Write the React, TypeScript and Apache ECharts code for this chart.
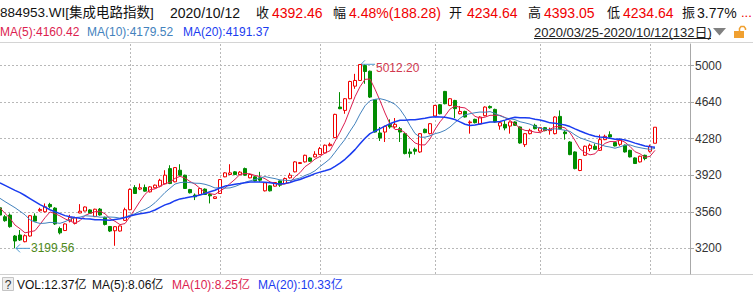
import React, { useEffect, useRef } from "react";
import * as echarts from "echarts";

// ---------- DATA ----------
const tradeDays: [string, number[]][] = [
  ["03", [25, 26, 27, 30, 31]],
  ["04", [1, 2, 3, 7, 8, 9, 10, 13, 14, 15, 16, 17, 20, 21, 22, 23, 24, 27, 28, 29, 30]],
  ["05", [6, 7, 8, 11, 12, 13, 14, 15, 18, 19, 20, 21, 22, 25, 26, 27, 28, 29]],
  ["06", [1, 2, 3, 4, 5, 8, 9, 10, 11, 12, 15, 16, 17, 18, 19, 22, 23, 24, 29, 30]],
  ["07", [1, 2, 3, 6, 7, 8, 9, 10, 13, 14, 15, 16, 17, 20, 21, 22, 23, 24, 27, 28, 29, 30, 31]],
  ["08", [3, 4, 5, 6, 7, 10, 11, 12, 13, 14, 17, 18, 19, 20, 21, 24, 25, 26, 27, 28, 31]],
  ["09", [1, 2, 3, 4, 7, 8, 9, 10, 11, 14, 15, 16, 17, 18, 21, 22, 23, 24, 25, 28, 29, 30]],
  ["10", [9, 12]],
];
const categories: string[] = tradeDays.flatMap(([m, ds]) =>
  ds.map((d) => `2020/${m}/${String(d).padStart(2, "0")}`)
);
const blankSlots = 7;
const gridDates = ["2020/05/06", "2020/06/01", "2020/07/01", "2020/08/03", "2020/09/01", "2020/10/09"];
const yTicks = [3200, 3560, 3920, 4280, 4640, 5000];

const opens = [
  3599, 3511, 3527, 3321, 3331, 3265, 3321, 3517, 3570, 3560, 3632, 3596, 3395, 3375, 3470, 3445, 3548, 3567, 3578, 3512,
  3586, 3505, 3415, 3373, 3370, 3475, 3580, 3799, 3783, 3799, 3756, 3796, 3812, 3835, 3985, 3855, 3969, 3920, 3779, 3724,
  3730, 3783, 3730, 3691, 3740, 3904, 3927, 3953, 3925, 3985, 3894, 3904, 3894, 3766, 3815, 3812, 3864, 3838, 3894, 3953,
  4035, 4051, 4090, 4100, 4123, 4139, 4211, 4290, 4591, 4558, 4673, 4797, 4853, 5000, 4944, 4663, 4336, 4345, 4421, 4395,
  4378, 4329, 4149, 4175, 4149, 4372, 4329, 4503, 4614, 4745, 4607, 4656, 4525, 4548, 4437, 4470, 4424, 4506, 4597, 4568,
  4405, 4421, 4404, 4444, 4395, 4221, 4329, 4411, 4355, 4388, 4359, 4329, 4499, 4345, 4247, 4149, 3966, 4116, 4182, 4205,
  4165, 4270, 4319, 4241, 4224, 4215, 4165, 4090, 4051, 4116, 4156, 4234.64,
];
const closes = [
  3527, 3472, 3413, 3272, 3282, 3324, 3521, 3468, 3583, 3609, 3609, 3440, 3352, 3440, 3505, 3500, 3565, 3607, 3545, 3585,
  3528, 3435, 3370, 3413, 3420, 3580, 3780, 3740, 3796, 3763, 3805, 3822, 3870, 3920, 3838, 3995, 3920, 3789, 3747, 3707,
  3789, 3730, 3717, 3707, 3877, 3943, 3943, 3927, 3950, 3920, 3927, 3864, 3871, 3845, 3766, 3848, 3822, 3887, 3920, 4051,
  4044, 4116, 4057, 4126, 4182, 4215, 4224, 4519, 4575, 4673, 4843, 4853, 5010, 4941, 4689, 4345, 4287, 4401, 4395, 4421,
  4345, 4133, 4133, 4156, 4329, 4339, 4427, 4607, 4525, 4624, 4673, 4575, 4548, 4493, 4444, 4437, 4493, 4591, 4584, 4444,
  4437, 4385, 4444, 4411, 4237, 4329, 4362, 4378, 4388, 4359, 4372, 4493, 4378, 4329, 4123, 3985, 4074, 4205, 4215, 4175,
  4270, 4303, 4296, 4208, 4264, 4149, 4100, 4035, 4107, 4084, 4204.18, 4392.46,
];
const lows = [
  3517, 3462, 3403, 3199.56, 3272, 3259, 3315, 3462, 3560, 3553, 3593, 3430, 3337, 3370, 3455, 3435, 3545, 3565, 3540, 3508,
  3522, 3425, 3360, 3225, 3365, 3470, 3575, 3735, 3773, 3758, 3750, 3790, 3800, 3830, 3832, 3850, 3915, 3785, 3740, 3675,
  3725, 3725, 3642, 3685, 3735, 3900, 3922, 3920, 3920, 3915, 3890, 3858, 3855, 3760, 3760, 3808, 3805, 3833, 3887, 3948,
  4030, 4045, 4052, 4095, 4118, 4134, 4205, 4285, 4570, 4525, 4668, 4771, 4848, 4820, 4680, 4340, 4257, 4247, 4378, 4378,
  4247, 4125, 4093, 4123, 4140, 4333, 4322, 4498, 4519, 4618, 4600, 4483, 4520, 4488, 4329, 4430, 4418, 4500, 4575, 4438,
  4368, 4362, 4329, 4405, 4230, 4198, 4322, 4372, 4350, 4352, 4319, 4322, 4370, 4270, 4117, 3978, 3960, 4110, 4156, 4170,
  4160, 4265, 4290, 4203, 4208, 4143, 4095, 4030, 4045, 4067, 4143, 4234.64,
];
const highs = [
  3609, 3527, 3544, 3331, 3380, 3337, 3527, 3544, 3599, 3642, 3648, 3605, 3413, 3445, 3530, 3510, 3635, 3612, 3585, 3590,
  3597, 3512, 3420, 3418, 3425, 3600, 3790, 3822, 3838, 3828, 3812, 3828, 3885, 3969, 4018, 4000, 4028, 3925, 3785, 3740,
  3795, 3790, 3735, 3712, 3882, 3950, 4028, 3960, 3960, 3995, 3935, 3910, 3953, 3850, 3822, 3852, 3868, 3897, 3943, 4058,
  4050, 4122, 4098, 4156, 4198, 4222, 4241, 4525, 4738, 4680, 4850, 4918, 5012.2, 5008, 4950, 4670, 4395, 4408, 4470, 4483,
  4395, 4340, 4182, 4192, 4335, 4380, 4433, 4612, 4620, 4750, 4680, 4662, 4601, 4555, 4460, 4476, 4500, 4598, 4607, 4575,
  4450, 4460, 4450, 4450, 4400, 4335, 4378, 4427, 4394, 4395, 4388, 4500, 4558, 4362, 4255, 4155, 4080, 4212, 4231, 4231,
  4319, 4319, 4352, 4248, 4280, 4222, 4170, 4096, 4112, 4122, 4221, 4393.05,
];
// Moving-average values for the first days (history before the visible window)
const ma5Head = [3599, 3544, 3495, 3429];
const ma10Head = [3692, 3660, 3630, 3600, 3565, 3530, 3480, 3458, 3445];
const ma20Head = [3845, 3820, 3795, 3770, 3748, 3720, 3690, 3660, 3630, 3605, 3580, 3560, 3542, 3522, 3510, 3503, 3497, 3492, 3488];

const secName = "884953.WI[集成电路指数]";
const quoteDate = "2020/10/12";
const quoteLabels = ["收", "幅", "开", "高", "低", "振"];
const quoteValues = ["4392.46", "4.48%(188.28)", "4234.64", "4393.05", "4234.64", "3.77%"];
const quoteMore = "...";
const maNames = ["MA(5)", "MA(10)", "MA(20)"];
const maValues = ["4160.42", "4179.52", "4191.37"];
const rangeText = "2020/03/25-2020/10/12(132日)";
const volLegend = ["VOL:12.37亿", "MA(5):8.06亿", "MA(10):8.25亿", "MA(20):10.33亿"];

// ---------- STYLE ----------
const FONT = '"Liberation Sans", Arial, "Noto Sans CJK SC", sans-serif';
const UP = "#f00000";
const DOWN = "#008c00";
const C_MA5 = "#dc1e50";
const C_MA10 = "#4382bd";
const C_MA20 = "#1a3cf0";
const GRID_LINE = { color: "#b8b8b8", type: [2, 2] as number[], width: 1 };

function movingAverage(n: number, head: number[]) {
  return closes.map((_, i) => {
    if (i < head.length) return head[i];
    let s = 0;
    for (let k = i - n + 1; k <= i; k++) s += closes[k];
    return +(s / n).toFixed(2);
  });
}

function txt(text: string, x: number, y: number, fill: string, size: number, align = "left") {
  return {
    type: "text",
    x,
    y,
    silent: true,
    style: {
      text,
      fill,
      font: `${size}px ${FONT}`,
      align,
      textAlign: align,
      verticalAlign: "middle",
      textVerticalAlign: "middle",
    },
  };
}

export default function App() {
  const ref = useRef<HTMLDivElement>(null);
  useEffect(() => {
    document.body.style.margin = "0";
    if (!ref.current) return;
    const chart = echarts.init(ref.current, undefined, { renderer: "svg" });
    const xData = [...categories, ...Array.from({ length: blankSlots }, () => "")];
    const gridIdx = new Set(gridDates.map((d) => categories.indexOf(d)));
    const candle = opens.map((o, i) => [o, closes[i], lows[i], highs[i]]);

    chart.setOption({
      animation: false,
      grid: { left: 0, right: 63, top: 44, bottom: 18, containLabel: false, outerBoundsMode: "none" },
      xAxis: {
        type: "category",
        data: xData,
        boundaryGap: false,
        axisLine: { show: false },
        axisTick: { show: false },
        axisLabel: { show: false },
        splitLine: { show: true, interval: (idx: number) => gridIdx.has(idx), lineStyle: GRID_LINE },
      },
      yAxis: {
        type: "value",
        position: "right",
        min: 2947,
        max: 5212,
        axisLine: { show: true, lineStyle: { color: "#a8a8a8" } },
        axisTick: { show: true, length: 4, customValues: yTicks, lineStyle: { color: "#a8a8a8" } },
        axisLabel: {
          customValues: yTicks,
          color: "#333",
          fontSize: 12,
          fontFamily: FONT,
          margin: 5,
          formatter: (v: number) => String(v),
        },
        splitLine: { show: true, lineStyle: GRID_LINE },
      },
      series: [
        {
          type: "candlestick",
          data: candle,
          barWidth: 4,
          itemStyle: { color: "#ffffff", color0: DOWN, borderColor: UP, borderColor0: DOWN, borderWidth: 1 },
        },
        { type: "line", data: movingAverage(5, ma5Head), showSymbol: false, lineStyle: { color: C_MA5, width: 1 } },
        { type: "line", data: movingAverage(10, ma10Head), showSymbol: false, lineStyle: { color: C_MA10, width: 1 } },
        { type: "line", data: movingAverage(20, ma20Head), showSymbol: false, lineStyle: { color: C_MA20, width: 1.5 } },
      ],
    });

    const maxIdx = highs.indexOf(Math.max(...highs));
    const minIdx = lows.indexOf(Math.min(...lows));
    const pMax = chart.convertToPixel({ gridIndex: 0 }, [maxIdx, highs[maxIdx]]) as number[];
    const pMin = chart.convertToPixel({ gridIndex: 0 }, [minIdx, lows[minIdx]]) as number[];
    const ARROW = "#4f9ad0";
    const annot = (p: number[], value: number, color: string, dy: number) => [
      { type: "line", silent: true, shape: { x1: p[0] + 1, y1: p[1], x2: p[0] + 15, y2: p[1] }, style: { stroke: ARROW, lineWidth: 1 } },
      {
        type: "polyline",
        silent: true,
        shape: { points: [[p[0] + 5, p[1] - 4], [p[0] + 1, p[1]], [p[0] + 5, p[1] + 4]] },
        style: { stroke: ARROW, lineWidth: 1, fill: "none" },
      },
      txt(value.toFixed(2), p[0] + 16, p[1] + dy, color, 12),
    ];

    const row1 = 12.5;
    const row2 = 32;
    const rowB = 284.5;
    const labelX = [256, 333, 449, 528, 607, 682];
    const valueX = [272, 349, 467, 544, 623, 697];
    const valueColors = [UP, UP, UP, UP, UP, "#111"];
    const graphic: any[] = [
      { type: "line", silent: true, shape: { x1: 0, y1: 42.5, x2: 753, y2: 42.5 }, style: { stroke: "#d4d4d4" } },
      { type: "line", silent: true, shape: { x1: 0, y1: 274.5, x2: 753, y2: 274.5 }, style: { stroke: "#d0d0d0" } },
      txt(secName, 0, row1, "#111", 13.5),
      txt(quoteDate, 170, row1, "#111", 14),
      ...quoteLabels.map((l, i) => txt(l, labelX[i], row1, "#111", 13)),
      ...quoteValues.map((v, i) => txt(v, valueX[i], row1, valueColors[i], 14)),
      txt(quoteMore, 741, row1, UP, 13),
      txt(`${maNames[0]}:${maValues[0]}`, 0, row2, C_MA5, 12),
      txt(`${maNames[1]}:${maValues[1]}`, 87, row2, C_MA10, 12),
      txt(`${maNames[2]}:${maValues[2]}`, 183, row2, C_MA20, 12),
      txt(rangeText, 534, row2, "#222", 13),
      { type: "line", silent: true, shape: { x1: 534, y1: 38.5, x2: 711, y2: 38.5 }, style: { stroke: "#222", lineWidth: 1 } },
      { type: "polygon", silent: true, shape: { points: [[713, 28], [726, 28], [719.5, 35.5]] }, style: { fill: "#808080" } },
      { type: "rect", silent: true, shape: { x: 734, y: 31, width: 10, height: 7 }, style: { fill: "#f0a030" } },
      {
        type: "polyline",
        silent: true,
        shape: { points: [[739.5, 31], [739.5, 28.5], [741, 26.5], [744, 26.5], [745.5, 28.5], [745.5, 30]] },
        style: { stroke: "#f0a030", lineWidth: 1.5, fill: "none" },
      },
      { type: "rect", silent: true, shape: { x: 2.5, y: 277.5, width: 11, height: 13 }, style: { fill: "#efefef", stroke: "#c4c4c4" } },
      txt("?", 8, rowB, "#333", 12, "center"),
      txt(volLegend[0], 17, rowB, "#111", 12),
      txt(volLegend[1], 92, rowB, "#111", 12),
      txt(volLegend[2], 172, rowB, C_MA5, 12),
      txt(volLegend[3], 258, rowB, C_MA20, 12),
      ...annot(pMax, highs[maxIdx], "#d2384f", 4),
      ...annot(pMin, lows[minIdx], "#4f8a1a", 0),
    ];
    chart.setOption({ graphic });

    return () => chart.dispose();
  }, []);
  return <div ref={ref} style={{ width: 753, height: 292 }} />;
}
